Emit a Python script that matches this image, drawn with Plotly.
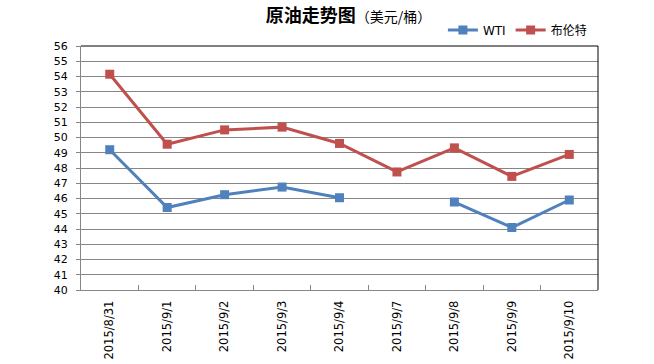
import plotly.graph_objects as go

dates = ["2015/8/31", "2015/9/1", "2015/9/2", "2015/9/3", "2015/9/4",
         "2015/9/7", "2015/9/8", "2015/9/9", "2015/9/10"]
wti = [49.2, 45.41, 46.25, 46.75, 46.05, None, 45.77, 44.1, 45.9]
brent = [54.15, 49.56, 50.5, 50.68, 49.61, 47.74, 49.32, 47.45, 48.89]
y_ticks = list(range(40, 57))

fig = go.Figure()
fig.add_trace(go.Scatter(x=dates, y=wti, name="WTI", mode="lines+markers",
                         line=dict(color="#4F81BD", width=3),
                         marker=dict(symbol="square", size=9, color="#4F81BD"),
                         connectgaps=False))
fig.add_trace(go.Scatter(x=dates, y=brent, name="布伦特", mode="lines+markers",
                         line=dict(color="#C0504D", width=3),
                         marker=dict(symbol="square", size=9, color="#C0504D")))

fig.update_layout(
    width=654, height=364,
    margin=dict(l=81, r=56, t=46, b=74, autoexpand=False),
    paper_bgcolor="white", plot_bgcolor="white",
    font=dict(family="DejaVu Sans, Noto Sans CJK SC", size=11, color="#000000"),
    title=dict(text="<b>原油走势图</b><span style='font-size:14px'>（美元/桶）</span>",
               x=0.533, xanchor="center", y=0.958, yanchor="middle",
               font=dict(family="Noto Sans CJK SC", size=18, color="#000000")),
    showlegend=True,
    legend=dict(orientation="h", x=0.70, xanchor="left", y=1.066, yanchor="middle",
                font=dict(family="DejaVu Sans, Noto Sans CJK SC", size=12),
                bgcolor="rgba(0,0,0,0)", itemwidth=30, tracegroupgap=0),
    xaxis=dict(type="category", range=[-0.5, 8.5], tickangle=-90,
               showgrid=False, showline=True, linecolor="#868686", linewidth=1,
               ticks="inside", ticklen=5, tickcolor="#868686", tickson="boundaries",
               ticklabelstandoff=5, automargin=False,
               tickfont=dict(family="DejaVu Sans", size=11.5), zeroline=False),
    yaxis=dict(range=[40, 56], tickvals=y_ticks, showgrid=True,
               gridcolor="#868686", gridwidth=1, showline=True, linecolor="#868686",
               ticks="outside", ticklen=4, tickcolor="#868686",
               ticklabelstandoff=6, automargin=False,
               tickfont=dict(family="DejaVu Sans", size=11), zeroline=False),
    shapes=[
        dict(type="line", xref="paper", yref="paper", x0=0, x1=1, y0=1, y1=1,
             line=dict(color="black", width=1)),
        dict(type="line", xref="paper", yref="paper", x0=1, x1=1, y0=0, y1=1,
             line=dict(color="black", width=1)),
    ],
)

fig.write_html("out.html", config={"displayModeBar": False},
               post_script="document.body.style.margin='0px';document.body.style.overflow='hidden';")
